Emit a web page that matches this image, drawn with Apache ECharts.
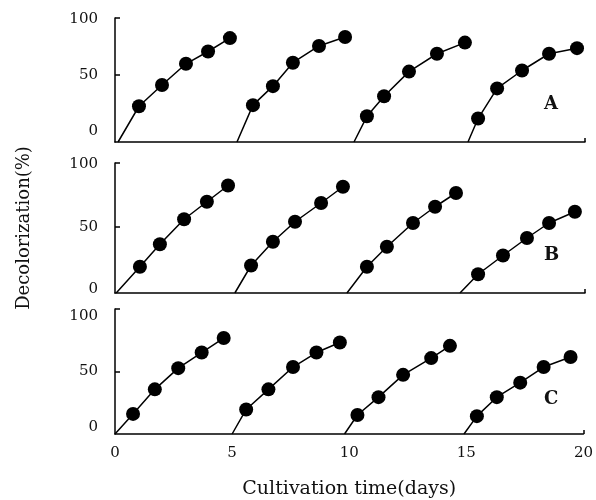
<!DOCTYPE html>
<html>
<head>
    <meta charset="UTF-8">
    <style>
        body { margin: 0; background: #fff; }
        #chart { width: 596px; height: 500px; }
    </style>
    <script src="https://cdn.jsdelivr.net/npm/echarts@6/dist/echarts.min.js"></script>
</head>
<body>
    <div id="chart"></div>
    <script>
        // [day, decolorization %] ; first point of each run is where the line leaves the baseline
        var runsA = [
            [[0.13, -10], [1.02, 22], [2.0, 41], [3.02, 60], [3.96, 71], [4.89, 83]],
            [[5.19, -10], [5.87, 23], [6.72, 40], [7.57, 61], [8.68, 76], [9.79, 84]],
            [[10.17, -10], [10.72, 13], [11.45, 31], [12.51, 53], [13.7, 69], [14.89, 79]],
            [[15.02, -10], [15.45, 11], [16.26, 38], [17.32, 54], [18.47, 69], [19.66, 74]]
        ];
        var runsB = [
            [[0.05, -3], [1.06, 18], [1.91, 36], [2.94, 56], [3.91, 70], [4.81, 83]],
            [[5.1, -3], [5.79, 19], [6.72, 38], [7.66, 54], [8.77, 69], [9.7, 82]],
            [[9.87, -3], [10.72, 18], [11.57, 34], [12.68, 53], [13.62, 66], [14.51, 77]],
            [[14.68, -3], [15.45, 12], [16.51, 27], [17.53, 41], [18.47, 53], [19.57, 62]]
        ];
        var runsC = [
            [[0.0, -6], [0.77, 12], [1.7, 34], [2.7, 53], [3.7, 67], [4.64, 80]],
            [[5.0, -6], [5.6, 16], [6.55, 34], [7.6, 54], [8.6, 67], [9.6, 76]],
            [[9.8, -6], [10.35, 11], [11.25, 27], [12.3, 47], [13.5, 62], [14.3, 73]],
            [[14.9, -6], [15.45, 10], [16.3, 27], [17.3, 40], [18.3, 54], [19.45, 63]]
        ];
        var panelNames = ['A', 'B', 'C'];
        var yLabels = [0, 50, 100];
        var xLabels = [0, 5, 10, 15, 20];

        var serif = 'DejaVu Serif';
        var chart = echarts.init(document.getElementById('chart'));

        // panel layout: top / height of grid, y range
        var panels = [
            { runs: runsA, top: 18, height: 124, min: -10, max: 101 },
            { runs: runsB, top: 163, height: 130, min: -3, max: 101 },
            { runs: runsC, top: 309, height: 128, min: -6, max: 106 }
        ];

        var grids = [], xAxes = [], yAxes = [], series = [], titles = [];

        panels.forEach(function (p, i) {
            var last = i === panels.length - 1;
            grids.push({ left: 115, top: p.top, width: 470, height: p.height });
            xAxes.push({
                type: 'value', gridIndex: i, min: 0, max: 20,
                axisLine: { onZero: false, lineStyle: { color: '#000', width: 1.5 } },
                axisTick: { show: true, inside: true, length: 4, customValues: [20], lineStyle: { color: '#000', width: 1.5 } },
                axisLabel: {
                    show: last, customValues: xLabels, margin: 12,
                    fontFamily: serif, fontSize: 15, color: '#111'
                },
                splitLine: { show: false },
                name: last ? 'Cultivation time(days)' : '',
                nameLocation: 'middle', nameGap: 46,
                nameTextStyle: { fontFamily: serif, fontSize: 19, color: '#111' }
            });
            yAxes.push({
                type: 'value', gridIndex: i, min: p.min, max: p.max,
                axisLine: { show: true, onZero: false, lineStyle: { color: '#000', width: 1.5 } },
                axisTick: { show: true, inside: true, length: 5, customValues: [50, p.max], lineStyle: { color: '#000', width: 1.5 } },
                axisLabel: {
                    customValues: yLabels, margin: 17,
                    fontFamily: serif, fontSize: 15, color: '#111'
                },
                splitLine: { show: false },
                name: i === 1 ? 'Decolorization(%)' : '',
                nameLocation: 'middle', nameGap: 82,
                nameTextStyle: { fontFamily: serif, fontSize: 18, color: '#111' }
            });
            p.runs.forEach(function (run) {
                series.push({
                    type: 'line', xAxisIndex: i, yAxisIndex: i,
                    symbol: 'circle', symbolSize: 14,
                    itemStyle: { color: '#000' },
                    lineStyle: { color: '#000', width: 1.5 },
                    silent: true, animation: false,
                    data: run.map(function (pt, k) {
                        return k === 0 ? { value: pt, symbol: 'none' } : { value: pt };
                    })
                });
            });
            titles.push({
                text: panelNames[i], left: 539, top: p.top + p.height - 52,
                textStyle: { fontFamily: serif, fontSize: 18, fontWeight: 'bold', color: '#111' }
            });
        });

        chart.setOption({
            animation: false,
            title: titles,
            grid: grids,
            xAxis: xAxes,
            yAxis: yAxes,
            series: series
        });
    </script>
</body>
</html>
